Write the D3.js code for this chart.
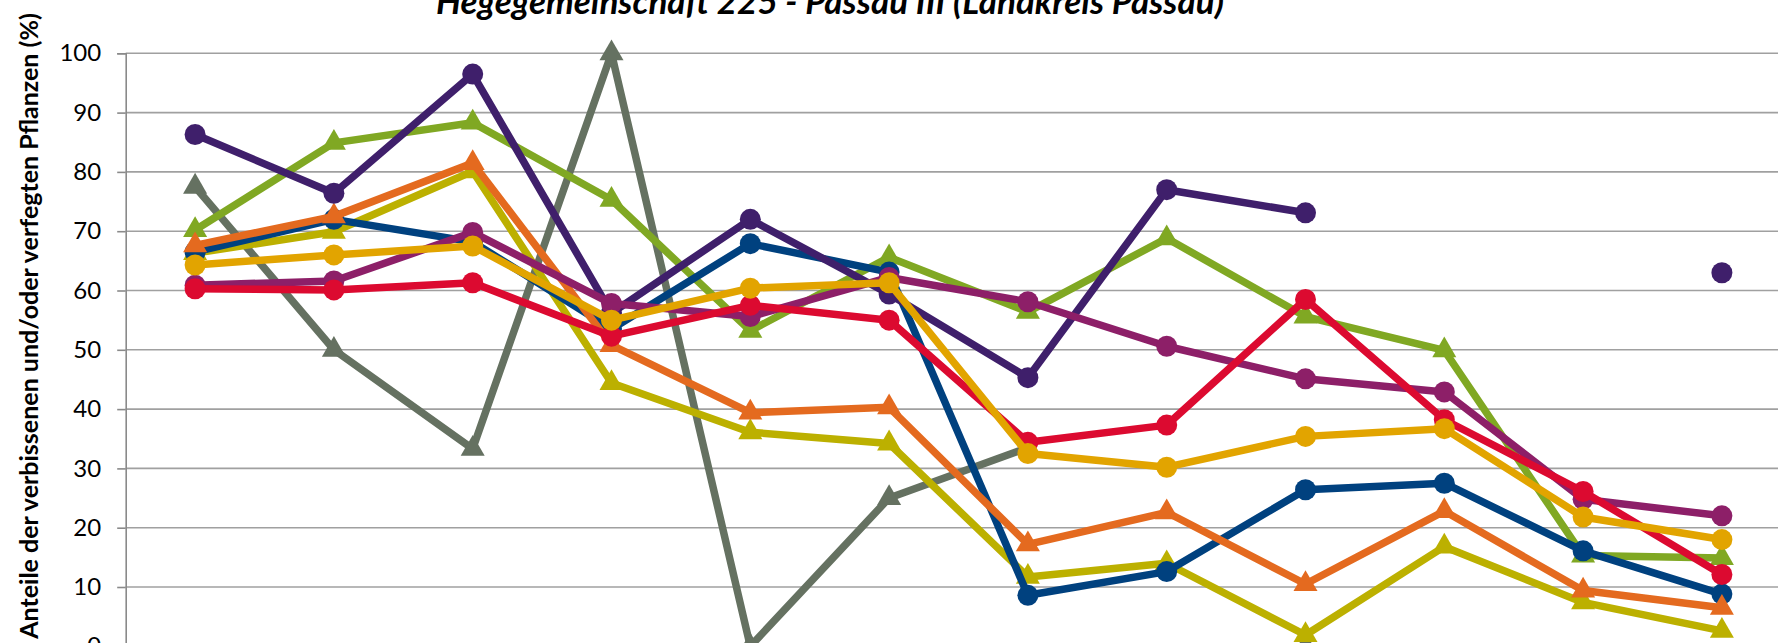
<!DOCTYPE html>
<html>
<head>
<meta charset="utf-8">
<script src="https://cdn.jsdelivr.net/npm/d3@7"></script>
<style>
  body { margin: 0; background: #fff; }
  svg { display: block; font-family: Lato, "Open Sans", sans-serif; }
</style>
</head>
<body>
<div class="chart"></div>
<script>
// survey years on the x axis (below the visible crop, so no labels drawn)
const years = ['1991', '1994', '1997', '2000', '2003', '2006', '2009', '2012', '2015', '2018', '2021', '2024'];
const yTicks = [0, 10, 20, 30, 40, 50, 60, 70, 80, 90, 100];

// one array per line, null = no value
const grau     = [77.5, 50, 33.3, 100, 0, 25, 33.5, null, 0, null, null, null];
const gruen    = [70.2, 84.9, 88.3, 75.3, 53.2, 65.6, 56.4, 68.8, 55.6, 49.9, 15.3, 14.9];
const oliv     = [66.3, 69.9, 80.1, 44.4, 36.1, 34.2, 11.7, 14.0, 1.9, 16.8, 7.4, 2.6];
const blau     = [66.5, 72.0, 68.2, 53.5, 67.9, 63.1, 8.6, 12.6, 26.4, 27.5, 16.1, 8.8];
const orange   = [67.6, 72.5, 81.5, 50.8, 39.4, 40.3, 17.2, 22.6, 10.5, 22.8, 9.4, 6.5];
const violett  = [86.3, 76.4, 96.5, 56.2, 72.0, 59.4, 45.3, 77.0, 73.1, null, null, 63.0];
const lila     = [60.9, 61.6, 69.8, 57.8, 55.6, 62.2, 58.1, 50.6, 45.1, 42.9, 24.8, 22.0];
const rot      = [60.3, 60.1, 61.3, 52.3, 57.5, 55.0, 34.4, 37.3, 58.5, 38.2, 26.1, 12.1];
const gelb     = [64.3, 66.0, 67.5, 55.0, 60.4, 61.3, 32.5, 30.2, 35.4, 36.7, 21.8, 18.0];

// drawing order: first is at the back
const series = [
  { name: 'Kiefer', values: grau, color: '#657161', marker: 'triangle' },
  { name: 'Buche', values: gruen, color: '#80a823', marker: 'triangle' },
  { name: 'Eiche', values: oliv, color: '#bcb000', marker: 'triangle' },
  { name: 'Fichte', values: blau, color: '#00417f', marker: 'circle' },
  { name: 'Edellaubholz', values: orange, color: '#e46a1f', marker: 'triangle' },
  { name: 'Tanne', values: violett, color: '#3f1f6b', marker: 'circle' },
  { name: 'Sonstiges Laubholz', values: lila, color: '#8d1f68', marker: 'circle' },
  { name: 'Laubholz gesamt', values: rot, color: '#dc0a30', marker: 'circle' },
  { name: 'Nadelholz gesamt', values: gelb, color: '#e2a400', marker: 'circle' }
];

const W = 1778, H = 643;
const margin = { left: 125.7, top: 53.3 };
const plotBottom = 646.3;
const band = 138.8;

const svg = d3.select('.chart').append('svg')
  .attr('width', W)
  .attr('height', H);

const x = d3.scalePoint()
  .domain(years)
  .range([margin.left + band / 2, margin.left + band * (years.length - 0.5)]);

const y = d3.scaleLinear()
  .domain([0, 100])
  .range([plotBottom, margin.top]);

const plotRight = margin.left + band * years.length;

// grid lines
svg.append('g')
  .selectAll('line')
  .data(yTicks)
  .enter()
  .append('line')
  .attr('x1', margin.left)
  .attr('x2', plotRight)
  .attr('y1', d => y(d))
  .attr('y2', d => y(d))
  .attr('stroke', '#a0a0a0')
  .attr('stroke-width', 1.6);

// y axis
const yAxis = svg.append('g')
  .attr('transform', `translate(${margin.left},0)`)
  .call(d3.axisLeft(y).tickValues(yTicks).tickSize(8.5).tickPadding(16));
yAxis.select('.domain').attr('stroke', '#8a8a8a').attr('stroke-width', 1.6);
yAxis.selectAll('.tick line').attr('stroke', '#8a8a8a').attr('stroke-width', 1.6);
yAxis.selectAll('text')
  .attr('font-size', 24)
  .attr('fill', '#000')
  .style('font-family', 'Lato, "Open Sans", sans-serif');

// x axis line (tick labels would fall below the crop)
const xAxis = svg.append('g')
  .attr('transform', `translate(0,${plotBottom})`)
  .call(d3.axisBottom(x).tickSize(0).tickFormat(''));
xAxis.select('.domain').attr('stroke', '#8a8a8a').attr('stroke-width', 1.6);

// lines + markers
const line = d3.line()
  .defined(d => d != null)
  .x((d, i) => x(years[i]))
  .y(d => y(d));

const tri = d3.symbol().type(d3.symbolTriangle).size(250);

series.forEach(s => {
  const g = svg.append('g').attr('class', 'series');
  g.append('path')
    .datum(s.values)
    .attr('d', line)
    .attr('fill', 'none')
    .attr('stroke', s.color)
    .attr('stroke-width', 7.5)
    .attr('stroke-linejoin', 'round');

  const pts = s.values.map((v, i) => ({ v, year: years[i] })).filter(p => p.v != null);
  if (s.marker === 'circle') {
    g.selectAll('circle')
      .data(pts)
      .enter()
      .append('circle')
      .attr('cx', d => x(d.year))
      .attr('cy', d => y(d.v))
      .attr('r', 10.5)
      .attr('fill', s.color);
  } else {
    g.selectAll('.tri')
      .data(pts)
      .enter()
      .append('path')
      .attr('class', 'tri')
      .attr('d', tri)
      .attr('transform', d => `translate(${x(d.year)},${y(d.v)})`)
      .attr('fill', s.color);
  }
});

// title
svg.append('text')
  .attr('x', 830)
  .attr('y', 14)
  .attr('text-anchor', 'middle')
  .attr('font-size', 35)
  .attr('font-weight', 'bold')
  .attr('font-style', 'italic')
  .attr('fill', '#000')
  .text('Hegegemeinschaft 225 - Passau III (Landkreis Passau)');

// y axis label
svg.append('text')
  .attr('transform', 'rotate(-90)')
  .attr('x', -326)
  .attr('y', 38)
  .attr('text-anchor', 'middle')
  .attr('font-size', 25)
  .attr('font-weight', 'bold')
  .attr('fill', '#000')
  .text('Anteile der verbissenen und/oder verfegten Pflanzen (%)');
</script>
</body>
</html>
